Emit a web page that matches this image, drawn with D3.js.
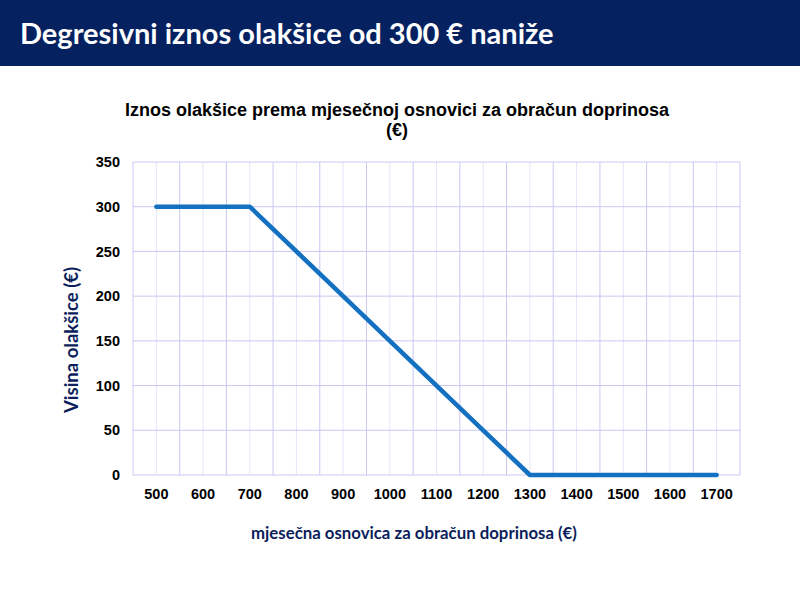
<!DOCTYPE html>
<html><head><meta charset="utf-8">
<script src="https://cdn.jsdelivr.net/npm/d3@7"></script>
<style>body{margin:0;background:#fff;}svg{display:block;}</style>
</head><body>
<svg id="c" width="800" height="600"></svg>
<script>
const categories = [500,600,700,800,900,1000,1100,1200,1300,1400,1500,1600,1700];
const values = [300,300,300,250,200,150,100,50,0,0,0,0,0];
const yTicks = [0,50,100,150,200,250,300,350];

const svg = d3.select("#c");
svg.append("rect").attr("x",0).attr("y",0).attr("width",800).attr("height",66).attr("fill","#05215f");
svg.append("text").attr("x",20).attr("y",44).attr("fill","#fff")
  .attr("font-family","Lato, 'Open Sans', sans-serif").attr("font-weight","bold").attr("font-size",29)
  .text("Degresivni iznos olakšice od 300 € naniže");

const L=133, R=740, T=162, B=475;
const x = d3.scaleBand().domain(categories).range([L,R]);
const y = d3.scaleLinear().domain([0,350]).range([B,T]);

const g = svg.append("g");
g.selectAll(".vmin").data(categories).enter().append("line")
  .attr("x1",d=>x(d)+x.bandwidth()/2).attr("x2",d=>x(d)+x.bandwidth()/2)
  .attr("y1",T).attr("y2",B).attr("stroke","#e4e4fb").attr("stroke-width",1);
g.selectAll(".vmaj").data(categories.concat(["end"])).enter().append("line")
  .attr("x1",(d,i)=>L+i*x.step()).attr("x2",(d,i)=>L+i*x.step())
  .attr("y1",T).attr("y2",B).attr("stroke","#c8c8f4").attr("stroke-width",1);
g.selectAll(".h").data(yTicks).enter().append("line")
  .attr("x1",L).attr("x2",R).attr("y1",d=>y(d)).attr("y2",d=>y(d))
  .attr("stroke","#c8c8f4").attr("stroke-width",1);

const yAxis = d3.axisLeft(y).tickValues(yTicks).tickSize(0).tickPadding(13);
const ya = svg.append("g").attr("transform",`translate(${L},0)`).call(yAxis);
ya.select(".domain").remove();
ya.selectAll("text").attr("font-family","Arial, 'Liberation Sans', sans-serif").attr("font-weight","bold").attr("font-size",14.5).attr("fill","#000");

const xAxis = d3.axisBottom(x).tickSize(0).tickPadding(14);
const xa = svg.append("g").attr("transform",`translate(0,${B})`).call(xAxis);
xa.select(".domain").remove();
xa.selectAll("text").attr("font-family","Arial, 'Liberation Sans', sans-serif").attr("font-weight","bold").attr("font-size",14.5).attr("fill","#000");

const line = d3.line().x((d,i)=>x(categories[i])+x.bandwidth()/2).y(d=>y(d));
svg.append("path").datum(values).attr("d",line).attr("fill","none")
  .attr("stroke","#1470c0").attr("stroke-width",4.5).attr("stroke-linecap","round").attr("stroke-linejoin","round");

svg.append("text").attr("x",397).attr("y",116).attr("text-anchor","middle")
  .attr("font-family","Arial, 'Liberation Sans', sans-serif").attr("font-weight","bold").attr("font-size",18).attr("fill","#000")
  .text("Iznos olakšice prema mjesečnoj osnovici za obračun doprinosa");
svg.append("text").attr("x",397).attr("y",136).attr("text-anchor","middle")
  .attr("font-family","Arial, 'Liberation Sans', sans-serif").attr("font-weight","bold").attr("font-size",18).attr("fill","#000")
  .text("(€)");

svg.append("text").attr("transform","translate(78,340) rotate(-90)").attr("text-anchor","middle")
  .attr("font-family","Lato, 'Open Sans', sans-serif").attr("font-weight","bold").attr("font-size",18.5).attr("fill","#0b1e5b")
  .text("Visina olakšice (€)");
svg.append("text").attr("x",414).attr("y",539).attr("text-anchor","middle")
  .attr("font-family","Lato, 'Open Sans', sans-serif").attr("font-weight","bold").attr("font-size",16.8).attr("fill","#0b1e5b")
  .text("mjesečna osnovica za obračun doprinosa (€)");
</script>
</body></html>
